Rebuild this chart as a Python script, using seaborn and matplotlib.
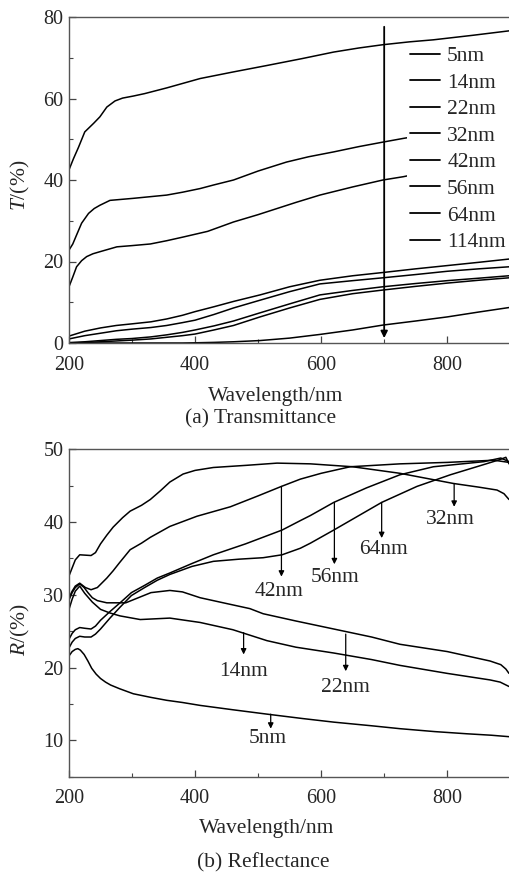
import pandas as pd
import matplotlib
matplotlib.use("Agg")
import matplotlib.pyplot as plt
from matplotlib.ticker import MultipleLocator
import seaborn as sns

# ---- datos (a) transmitancia ----
espesores = ["5nm", "14nm", "22nm", "32nm", "42nm", "56nm", "64nm", "114nm"]

wl_t_5 = [200, 207, 215, 225, 239, 249, 260, 273, 285, 302, 320, 355, 408, 460, 514, 570, 620, 660, 698, 740, 778, 840, 898]
t_5 = [42.5, 45.2, 48.0, 51.8, 53.9, 55.5, 57.9, 59.4, 60.1, 60.6, 61.2, 62.6, 64.9, 66.5, 68.1, 69.8, 71.4, 72.4, 73.2, 73.9, 74.4, 75.5, 76.6]

wl_t_14 = [200, 206, 212, 220, 231, 240, 249, 265, 302, 355, 380, 408, 430, 461, 500, 545, 580, 620, 660, 698, 730, 800, 889, 898]
t_14 = [22.8, 24.3, 26.5, 29.4, 31.8, 33.0, 33.8, 35.0, 35.5, 36.3, 37.0, 37.9, 38.8, 40.0, 42.2, 44.4, 45.7, 46.9, 48.2, 49.3, 50.2, 52.0, 54.2, 54.4]

wl_t_22 = [200, 206, 212, 220, 228, 238, 249, 276, 300, 329, 355, 381, 420, 461, 500, 530, 560, 598, 650, 698, 730, 800, 892, 898]
t_22 = [13.8, 16.2, 18.7, 20.2, 21.2, 21.9, 22.4, 23.6, 23.9, 24.3, 25.1, 26.0, 27.4, 29.7, 31.5, 33.0, 34.5, 36.3, 38.3, 40.0, 40.8, 43.0, 46.1, 46.3]

wl_t_bajo = [200, 225, 250, 275, 300, 330, 355, 380, 400, 430, 461, 503, 550, 598, 650, 698, 750, 800, 850, 898]
t_32 = [1.7, 2.9, 3.7, 4.3, 4.7, 5.2, 5.9, 6.8, 7.7, 8.9, 10.2, 11.8, 13.8, 15.4, 16.5, 17.3, 18.2, 19.0, 19.8, 20.6]
t_42 = [1.0, 1.8, 2.4, 3.0, 3.4, 3.8, 4.3, 5.0, 5.6, 7.0, 8.6, 10.5, 12.6, 14.5, 15.3, 16.0, 16.8, 17.6, 18.2, 18.7]
t_56 = [0.1, 0.3, 0.6, 0.9, 1.1, 1.5, 2.0, 2.6, 3.2, 4.2, 5.4, 7.4, 9.6, 11.8, 12.9, 13.8, 14.6, 15.3, 15.9, 16.5]
t_64 = [0.0, 0.1, 0.3, 0.5, 0.7, 1.0, 1.4, 1.8, 2.2, 3.2, 4.3, 6.4, 8.6, 10.7, 12.1, 13.0, 13.9, 14.7, 15.4, 16.0]
t_114 = [0.0, 0.0, 0.0, 0.0, 0.0, 0.0, 0.0, 0.0, 0.05, 0.15, 0.3, 0.6, 1.2, 2.1, 3.2, 4.4, 5.4, 6.4, 7.6, 8.7]

# ---- datos (b) reflectancia ----
wl_r_5 = [200, 205, 210, 214, 218, 224, 230, 236, 243, 250, 258, 266, 280, 302, 330, 355, 380, 408, 460, 514, 570, 620, 680, 725, 780, 831, 870, 898]
r_5 = [21.6, 22.2, 22.5, 22.6, 22.4, 21.8, 20.9, 19.9, 19.1, 18.5, 18.0, 17.6, 17.1, 16.4, 15.9, 15.5, 15.2, 14.8, 14.2, 13.6, 13.0, 12.5, 12.0, 11.6, 11.2, 10.9, 10.7, 10.5]

wl_r_14 = [200, 205, 210, 217, 225, 237, 250, 265, 281, 313, 360, 408, 460, 514, 560, 620, 680, 725, 800, 868, 884, 898]
r_14 = [28.0, 29.4, 30.5, 31.2, 30.2, 29.0, 28.0, 27.5, 27.1, 26.6, 26.8, 26.2, 25.2, 23.7, 22.8, 22.0, 21.1, 20.3, 19.2, 18.3, 18.0, 17.4]

wl_r_22 = [200, 205, 210, 217, 224, 230, 237, 245, 260, 290, 310, 330, 360, 380, 408, 450, 487, 508, 560, 620, 680, 725, 800, 868, 885, 893, 898]
r_22 = [29.3, 30.3, 31.0, 31.5, 31.0, 30.3, 29.6, 29.2, 28.9, 28.9, 29.6, 30.3, 30.6, 30.4, 29.6, 28.8, 28.1, 27.4, 26.4, 25.3, 24.2, 23.2, 22.2, 20.9, 20.4, 19.8, 19.2]

wl_r_32 = [200, 205, 210, 217, 235, 242, 250, 260, 270, 285, 297, 315, 329, 345, 360, 381, 400, 429, 482, 530, 583, 650, 725, 810, 850, 879, 890, 898]
r_32 = [32.6, 33.7, 34.8, 35.5, 35.4, 35.8, 37.0, 38.2, 39.3, 40.6, 41.5, 42.3, 43.1, 44.3, 45.5, 46.6, 47.1, 47.5, 47.8, 48.1, 48.0, 47.6, 46.7, 45.3, 44.8, 44.4, 43.9, 43.1]

wl_r_42 = [200, 205, 210, 217, 226, 235, 245, 260, 270, 280, 297, 315, 329, 360, 403, 456, 500, 537, 567, 600, 646, 725, 800, 874, 898]
r_42 = [29.6, 30.5, 31.2, 31.6, 31.0, 30.7, 31.0, 32.3, 33.3, 34.4, 36.2, 37.1, 37.9, 39.4, 40.8, 42.1, 43.6, 44.9, 45.9, 46.7, 47.6, 48.0, 48.2, 48.5, 48.2]

wl_r_56 = [200, 205, 210, 217, 225, 235, 242, 250, 265, 281, 299, 320, 340, 360, 395, 429, 480, 538, 567, 583, 620, 672, 725, 778, 858, 885, 898]
r_56 = [23.9, 24.7, 25.2, 25.5, 25.4, 25.3, 25.7, 26.5, 27.7, 28.9, 30.3, 31.3, 32.3, 33.0, 34.3, 35.5, 37.0, 38.9, 40.2, 40.9, 42.7, 44.7, 46.5, 47.6, 48.3, 48.8, 48.3]

wl_r_64 = [200, 205, 210, 217, 225, 235, 242, 250, 265, 281, 299, 320, 340, 360, 395, 429, 470, 508, 538, 567, 583, 620, 660, 696, 752, 805, 858, 884, 893, 898]
r_64 = [22.7, 23.5, 24.0, 24.3, 24.2, 24.2, 24.6, 25.3, 26.8, 28.3, 29.9, 31.0, 32.0, 32.8, 33.9, 34.6, 34.9, 35.1, 35.5, 36.4, 37.1, 38.9, 40.9, 42.7, 44.9, 46.5, 47.9, 48.6, 48.9, 48.0]

# etiquetas con flecha en (b)
flechas_r = ["42nm", "56nm", "64nm", "32nm", "14nm", "22nm", "5nm"]
flecha_x = [537, 621, 696, 811, 477, 639, 520]
flecha_y0 = [44.9, 42.7, 42.7, 45.3, 24.8, 24.6, 13.6]
flecha_y1 = [32.5, 34.2, 37.8, 42.1, 21.8, 19.5, 11.6]
texto_x = [533, 622, 699, 805, 477, 639, 516]
texto_y = [30.4, 32.4, 36.2, 40.3, 19.5, 17.2, 10.3]


def tabla(series):
    partes = []
    for nombre, x, y in series:
        partes.append(pd.DataFrame({"wl": x, "v": y, "espesor": nombre}))
    return pd.concat(partes, ignore_index=True)


datos_t = tabla([
    ("5nm", wl_t_5, t_5), ("14nm", wl_t_14, t_14), ("22nm", wl_t_22, t_22),
    ("32nm", wl_t_bajo, t_32), ("42nm", wl_t_bajo, t_42), ("56nm", wl_t_bajo, t_56),
    ("64nm", wl_t_bajo, t_64), ("114nm", wl_t_bajo, t_114),
])
datos_r = tabla([
    ("5nm", wl_r_5, r_5), ("14nm", wl_r_14, r_14), ("22nm", wl_r_22, r_22),
    ("32nm", wl_r_32, r_32), ("42nm", wl_r_42, r_42), ("56nm", wl_r_56, r_56),
    ("64nm", wl_r_64, r_64),
])

sns.set_style("ticks")
plt.rcParams["font.family"] = ["Liberation Serif", "DejaVu Serif"]
plt.rcParams["mathtext.fontset"] = "custom"
plt.rcParams["mathtext.it"] = "Liberation Serif:italic"
plt.rcParams["mathtext.rm"] = "Liberation Serif"

fs_tick = 14.5
fs = 15.5
paleta = {e: "black" for e in espesores}

fig = plt.figure(figsize=(5.09, 8.75), dpi=100)
ax1 = fig.add_axes([69 / 509, 1 - 343 / 875, 440 / 509, 326 / 875])
ax2 = fig.add_axes([69 / 509, 1 - 776.7 / 875, 440 / 509, 327.4 / 875])

sns.lineplot(data=datos_t, x="wl", y="v", hue="espesor", hue_order=espesores,
             palette=paleta, estimator=None, sort=False, linewidth=1.1, ax=ax1)
sns.lineplot(data=datos_r, x="wl", y="v", hue="espesor", hue_order=espesores[:-1],
             palette=paleta, estimator=None, sort=False, linewidth=1.1, ax=ax2,
             legend=False)

for ax in (ax1, ax2):
    ax.set_xlim(200, 898)
    ax.xaxis.set_major_locator(MultipleLocator(200))
    ax.xaxis.set_minor_locator(MultipleLocator(100))
    ax.tick_params(which="both", direction="in", labelsize=fs_tick, color="#444444")
    ax.tick_params(which="major", length=5, width=0.9)
    ax.tick_params(which="minor", length=3, width=0.8)
    ax.tick_params(axis="x", pad=9)
    ax.tick_params(axis="y", pad=4)
    for lado in ("left", "bottom", "top"):
        ax.spines[lado].set_color("#555555")
        ax.spines[lado].set_linewidth(1.0)
    ax.spines["right"].set_visible(False)
    ax.set_xlabel("")

ax1.set_ylim(0, 80)
ax1.yaxis.set_major_locator(MultipleLocator(20))
ax1.yaxis.set_minor_locator(MultipleLocator(10))
ax2.set_ylim(5, 50)
ax2.yaxis.set_major_locator(MultipleLocator(10))
ax2.yaxis.set_minor_locator(MultipleLocator(5))

ax1.set_ylabel(r"$T$/(%)", fontsize=fs)
ax1.yaxis.set_label_coords(-0.085, 0.485)
ax2.set_ylabel(r"$R$/(%)", fontsize=fs)
ax2.yaxis.set_label_coords(-0.085, 0.45)

fig.text(276 / 509, 1 - 396 / 875, "Wavelength/nm", ha="center", va="center", fontsize=fs)
fig.text(261 / 509, 1 - 419 / 875, "(a) Transmittance", ha="center", va="center", fontsize=fs)
fig.text(267 / 509, 1 - 828 / 875, "Wavelength/nm", ha="center", va="center", fontsize=fs)
fig.text(263 / 509, 1 - 863 / 875, "(b) Reflectance", ha="center", va="center", fontsize=fs)

# leyenda de (a), tapa parte de las curvas
handles, labels = ax1.get_legend_handles_labels()
ley = ax1.legend(handles, labels, loc="upper right", bbox_to_anchor=(1.0, 0.92),
                 fontsize=fs, frameon=True, fancybox=False, framealpha=1,
                 handlelength=1.4, handletextpad=0.33, labelspacing=0.3,
                 borderpad=0.15, borderaxespad=0)
ley.get_frame().set_edgecolor("none")
ley.get_frame().set_facecolor("white")
for h in ley.get_lines():
    h.set_linewidth(1.3)

ax1.annotate("", xy=(700, 1.2), xytext=(700, 77.6),
             arrowprops=dict(arrowstyle="-|>", color="black", lw=1.3, mutation_scale=10,
                             shrinkA=0, shrinkB=0))

for nombre, x, y0, y1, tx, ty in zip(flechas_r, flecha_x, flecha_y0, flecha_y1, texto_x, texto_y):
    ax2.annotate("", xy=(x, y1), xytext=(x, y0),
                 arrowprops=dict(arrowstyle="-|>", color="black", lw=0.9, mutation_scale=8,
                                 shrinkA=0, shrinkB=0))
    ax2.text(tx, ty, nombre, ha="center", va="center", fontsize=fs)

fig.savefig("out.png", dpi=100)
